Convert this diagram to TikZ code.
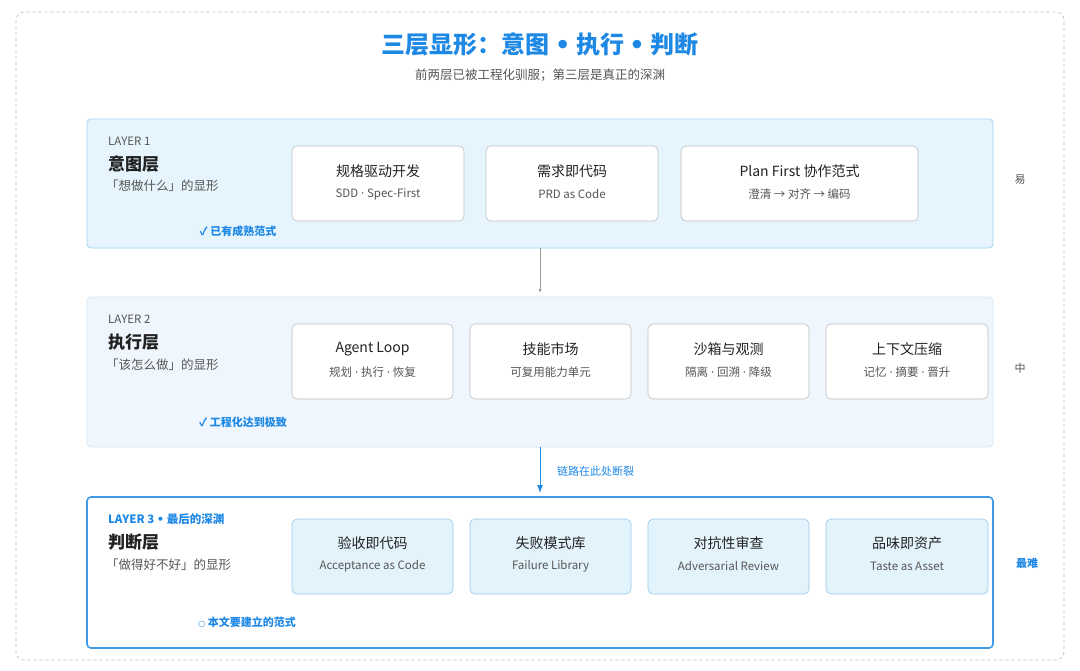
\documentclass[tikz,border=0pt]{standalone}
\usepackage{fontspec}
\setmainfont{Noto Sans CJK SC}
\newfontfamily\lat{DejaVu Sans}
\newcommand{\md}{{\lat ·}}
\newcommand{\bu}{{\lat •}}
\usetikzlibrary{arrows.meta}
\definecolor{blu}{HTML}{1E88E5}
\definecolor{gry}{HTML}{555555}
\definecolor{dark}{HTML}{222222}
\definecolor{l1fill}{RGB}{230,245,253}
\definecolor{l1draw}{RGB}{160,212,245}
\definecolor{l2fill}{RGB}{239,246,253}
\definecolor{l2draw}{RGB}{214,233,248}
\definecolor{c3fill}{RGB}{227,243,252}
\definecolor{c3draw}{RGB}{150,200,230}
\begin{document}
\begin{tikzpicture}[x=1pt,y=-1pt,
  layerbox/.style={rounded corners=4pt,line width=0.8pt},
  card/.style={rounded corners=5pt,draw=#1,line width=0.6pt},
  ctitle/.style={font=\fontsize{14}{16}\selectfont,text=dark,anchor=center},
  csub/.style={font=\fontsize{11.5}{13}\selectfont,text=gry,anchor=center},
  lab/.style={anchor=west,inner sep=0pt},
]
\useasboundingbox (0,0) rectangle (1080,670);
\fill[white] (0,0) rectangle (1080,670);
\draw[dashed,draw=black!25,rounded corners=8pt,line width=0.7pt] (16,12) rectangle (1064,660);
\node[font=\fontsize{24}{28}\selectfont\bfseries,text=blu] (title) at (540,44) {三层显形：意图 \bu{} 执行 \bu{} 判断};
\node[font=\fontsize{12.5}{14}\selectfont,text=gry] (sub) at (540,75) {前两层已被工程化驯服；第三层是真正的深渊};
% layer 1
\draw[layerbox,fill=l1fill,draw=l1draw] (87,119) rectangle (993,248);
\node[lab,font=\fontsize{11.5}{13}\selectfont,text=gry] (l1) at (108,141) {LAYER 1};
\node[lab,font=\fontsize{17}{19}\selectfont\bfseries,text=dark] (l1n) at (108,164) {意图层};
\node[lab,font=\fontsize{12.5}{14}\selectfont,text=gry] (l1s) at (106,186) {「想做什么」的显形};
\node[font=\fontsize{11}{13}\selectfont\bfseries,text=blu] (l1c) at (238,231) {✓ 已有成熟范式};
\node[font=\fontsize{11}{13}\selectfont,text=gry] (e1) at (1020,180) {易};
\foreach \a/\b/\t/\s/\n in {292/464/规格驱动开发/SDD \md{} Spec-First/a1,486/658/需求即代码/PRD as Code/a2,681/918/Plan First 协作范式/澄清 → 对齐 → 编码/a3}{
  \draw[card=black!25,fill=white] (\a,146) rectangle (\b,221);
  \node[ctitle] (\n t) at ({(\a+\b)/2},171) {\t};
  \node[csub] (\n s) at ({(\a+\b)/2},194) {\s};
}
% layer 2
\draw[layerbox,fill=l2fill,draw=l2draw] (87,297) rectangle (993,447);
\node[lab,font=\fontsize{11.5}{13}\selectfont,text=gry] (l2) at (108,319) {LAYER 2};
\node[lab,font=\fontsize{17}{19}\selectfont\bfseries,text=dark] (l2n) at (108,342) {执行层};
\node[lab,font=\fontsize{12.5}{14}\selectfont,text=gry] (l2s) at (106,365) {「该怎么做」的显形};
\node[font=\fontsize{11}{13}\selectfont\bfseries,text=blu] (l2c) at (243,422) {✓ 工程化达到极致};
\node[font=\fontsize{11}{13}\selectfont,text=gry] (e2) at (1020,368) {中};
\foreach \a/\b/\t/\s/\n in {292/453/Agent Loop/规划 \md{} 执行 \md{} 恢复/b1,470/631/技能市场/可复用能力单元/b2,648/809/沙箱与观测/隔离 \md{} 回溯 \md{} 降级/b3,826/988/上下文压缩/记忆 \md{} 摘要 \md{} 晋升/b4}{
  \draw[card=black!25,fill=white] (\a,324) rectangle (\b,399);
  \node[ctitle] (\n t) at ({(\a+\b)/2},349) {\t};
  \node[csub] (\n s) at ({(\a+\b)/2},372) {\s};
}
% layer 3
\draw[layerbox,fill=white,draw=blu!85,line width=1.6pt] (87,497) rectangle (993,648);
\node[lab,font=\fontsize{11.5}{13}\selectfont\bfseries,text=blu] (l3) at (108,519) {LAYER 3 \bu{} 最后的深渊};
\node[lab,font=\fontsize{17}{19}\selectfont\bfseries,text=dark] (l3n) at (108,542) {判断层};
\node[lab,font=\fontsize{12.5}{14}\selectfont,text=gry] (l3s) at (106,565) {「做得好不好」的显形};
\node[font=\fontsize{11}{13}\selectfont\bfseries,text=blu] (l3c) at (247,622) {{\lat\fontsize{8}{10}\selectfont ○} 本文要建立的范式};
\node[font=\fontsize{11}{13}\selectfont\bfseries,text=blu] (e3) at (1027,563) {最难};
\foreach \a/\b/\t/\s/\n in {292/453/验收即代码/Acceptance as Code/c1,470/631/失败模式库/Failure Library/c2,648/809/对抗性审查/Adversarial Review/c3,826/988/品味即资产/Taste as Asset/c4}{
  \draw[card=c3draw,fill=c3fill] (\a,519) rectangle (\b,594);
  \node[ctitle] (\n t) at ({(\a+\b)/2},543) {\t};
  \node[csub] (\n s) at ({(\a+\b)/2},566) {\s};
}
% arrows
\coordinate (p1) at (540,248); \coordinate (p2) at (540,293);
\draw[black!40,line width=0.7pt,-{Latex[length=4pt,width=3pt]}] (p1) -- (p2);
\coordinate (q1) at (540,447); \coordinate (q2) at (540,493);
\draw[blu,line width=1pt,-{Latex[length=8pt,width=6pt]}] (q1) -- (q2);
\node[lab,font=\fontsize{11}{13}\selectfont,text=blu] (brk) at (557,471) {链路在此处断裂};
\end{tikzpicture}
\end{document}
